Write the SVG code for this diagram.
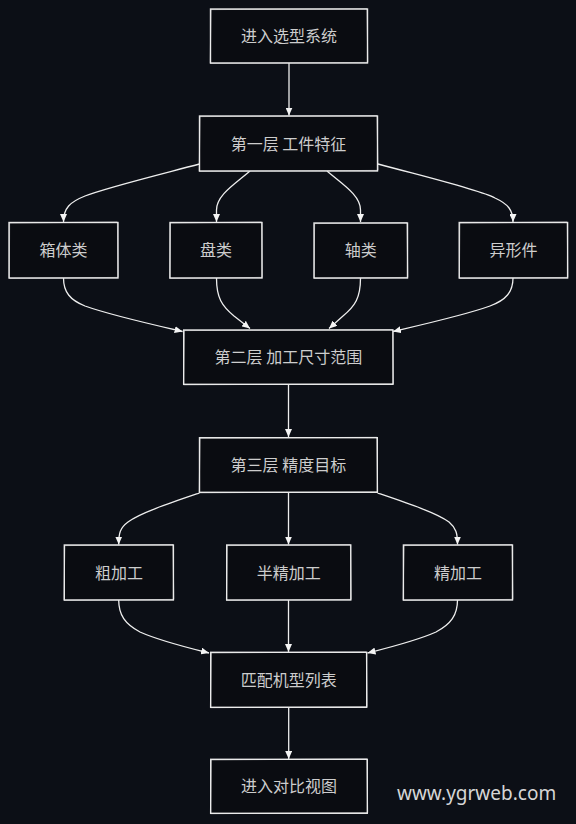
<svg xmlns="http://www.w3.org/2000/svg" width="576" height="824" viewBox="0 0 576 824">
<defs>
<style>
.bg{fill:#0c0f16}
.box{fill:#0a0c11;stroke:#e4e4e4;stroke-width:1.4}
.box2{fill:none;stroke:#f2f2f2;stroke-width:0.8;opacity:0.7}
.lbl{font-family:"Noto Sans CJK SC","Noto Sans",sans-serif;font-size:16px;fill:#cdcdcd;text-anchor:middle}
.edge{fill:none;stroke:#eeeeee;stroke-width:1.3;marker-end:url(#arr)}
.wm{font-family:"Noto Sans","Open Sans",sans-serif;font-size:19px;fill:#d6d6d6}
</style>
<marker id="arr" viewBox="0 0 8 7" refX="8" refY="3.5" markerWidth="8" markerHeight="7" markerUnits="userSpaceOnUse" orient="auto">
<path d="M0,0 L8,3.5 L0,7 z" fill="#f4f4f4"/>
</marker>
</defs>
<rect class="bg" x="0" y="0" width="576" height="824"/>

<g id="edges">
<path class="edge" d="M289,63 L289,115.5"/>
<path class="edge" d="M199.5,164 C150,177 105,188 85,196 C70,202 63.5,208 63.5,222"/>
<path class="edge" d="M250,171 C235,184 216.5,195 216.5,210 L216.5,222"/>
<path class="edge" d="M327,171 C342,184 360.5,195 360.5,210 L360.5,222"/>
<path class="edge" d="M378,164 C430,178 480,190 495,198 C508,204 513,210 513,222"/>
<path class="edge" d="M63.5,278 C63.5,292 70,300 85,306 C110,315 150,324 182.6,331.5"/>
<path class="edge" d="M216.5,278 C216.5,298 222,306 234,316 L250,328.5"/>
<path class="edge" d="M360.5,278 C360.5,298 355,306 343,316 L329,328.5"/>
<path class="edge" d="M513,278 C513,292 506,300 490,306 C465,315 425,324 393,331.5"/>
<path class="edge" d="M288.5,384.5 L288.5,437"/>
<path class="edge" d="M199.5,493 C170,503 140,513 128,522 C120,528 118.7,533 118.7,544.5"/>
<path class="edge" d="M288.5,492.5 L288.5,544.5"/>
<path class="edge" d="M377.5,493 C407,503 437,513 449,522 C456,528 457.5,533 457.5,544.5"/>
<path class="edge" d="M118.7,600 C118.7,615 125,624 140,632 C160,641 185,647 209,653"/>
<path class="edge" d="M288.5,600 L288.5,652"/>
<path class="edge" d="M457.5,600 C457.5,615 451,624 436,632 C416,641 391,647 367.5,653"/>
<path class="edge" d="M288.7,707.5 L288.7,759"/>
</g>

<g id="n1">
<rect class="box" x="210.5" y="9" width="157" height="54"/>
<path class="box2" d="M211,9.6 L367,8.8 L367.8,62.4 L210.2,63.4 Z"/>
<text class="lbl" x="289" y="42">进入选型系统</text>
</g>
<g id="n2">
<rect class="box" x="199.5" y="116" width="178" height="55"/>
<path class="box2" d="M200,116.6 L377,115.6 L378,170.4 L199.2,171.4 Z"/>
<text class="lbl" x="288.5" y="149.5">第一层 工件特征</text>
</g>
<g id="n3">
<rect class="box" x="9" y="222.5" width="109" height="55.5"/>
<path class="box2" d="M9.6,223 L117.4,222 L118,277.4 L9.4,278.4 Z"/>
<text class="lbl" x="63.5" y="256">箱体类</text>
</g>
<g id="n4">
<rect class="box" x="170" y="222.5" width="92" height="55.5"/>
<path class="box2" d="M170.4,223 L261.6,222 L262.2,277.4 L169.6,278.4 Z"/>
<text class="lbl" x="216" y="256">盘类</text>
</g>
<g id="n5">
<rect class="box" x="314" y="223" width="93.5" height="55"/>
<path class="box2" d="M314.6,223.6 L407,222.6 L407.8,277.4 L314.2,278.4 Z"/>
<text class="lbl" x="360.7" y="256">轴类</text>
</g>
<g id="n6">
<rect class="box" x="459.2" y="222.5" width="108.4" height="55.5"/>
<path class="box2" d="M459.8,223 L567.2,222 L567.8,277.4 L459.4,278.4 Z"/>
<text class="lbl" x="513.4" y="256">异形件</text>
</g>
<g id="n7">
<rect class="box" x="183.7" y="330" width="209.3" height="54.3"/>
<path class="box2" d="M184.2,330.6 L392.6,329.6 L393.4,383.8 L183.4,384.8 Z"/>
<text class="lbl" x="288.4" y="363">第二层 加工尺寸范围</text>
</g>
<g id="n8">
<rect class="box" x="199.5" y="437.7" width="177.8" height="54.6"/>
<path class="box2" d="M200,438.2 L376.9,437.3 L377.7,491.8 L199.2,492.8 Z"/>
<text class="lbl" x="288.4" y="471">第三层 精度目标</text>
</g>
<g id="n9">
<rect class="box" x="64.3" y="545" width="109.1" height="55"/>
<path class="box2" d="M64.8,545.6 L173,544.6 L173.8,599.4 L64,600.4 Z"/>
<text class="lbl" x="118.9" y="578.5">粗加工</text>
</g>
<g id="n10">
<rect class="box" x="226.7" y="545" width="124.1" height="55"/>
<path class="box2" d="M227.2,545.6 L350.4,544.6 L351.2,599.4 L226.4,600.4 Z"/>
<text class="lbl" x="288.7" y="578.5">半精加工</text>
</g>
<g id="n11">
<rect class="box" x="403.4" y="545" width="109.1" height="55"/>
<path class="box2" d="M404,545.6 L512.1,544.6 L512.9,599.4 L403.1,600.4 Z"/>
<text class="lbl" x="458" y="578.5">精加工</text>
</g>
<g id="n12">
<rect class="box" x="210.7" y="652.3" width="156" height="55"/>
<path class="box2" d="M211.2,652.9 L366.3,651.9 L367.1,706.7 L210.4,707.7 Z"/>
<text class="lbl" x="288.7" y="686">匹配机型列表</text>
</g>
<g id="n13">
<rect class="box" x="210.7" y="759.3" width="156.6" height="54"/>
<path class="box2" d="M211.2,759.9 L366.9,758.9 L367.7,812.7 L210.4,813.7 Z"/>
<text class="lbl" x="289" y="792">进入对比视图</text>
</g>

<text class="wm" x="397" y="800">www.ygrweb.com</text>
</svg>
